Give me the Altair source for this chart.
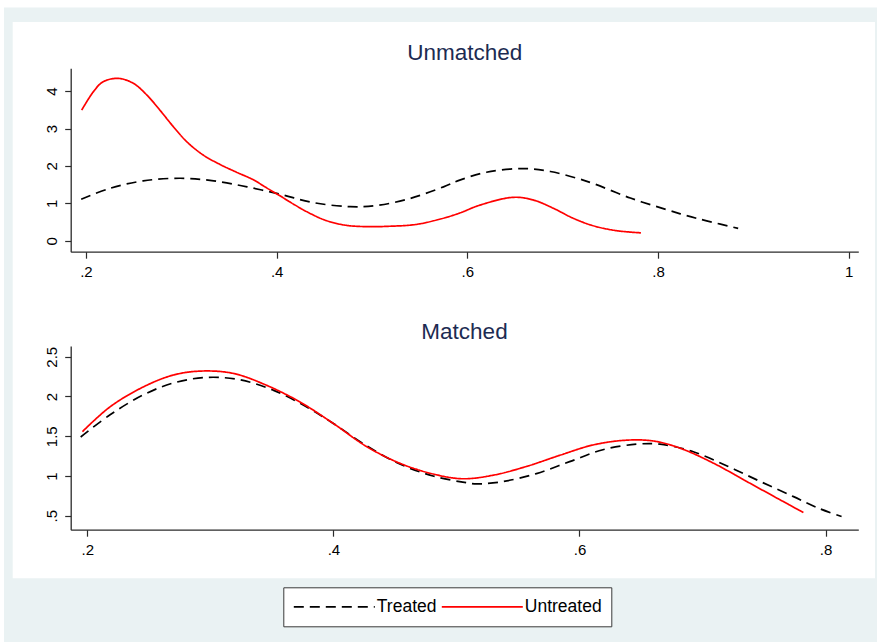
import altair as alt
import pandas as pd

# ---------------- data ----------------
series_names = ["Treated", "Untreated"]

unm_treated_x = [0.195, 0.225, 0.260, 0.299, 0.334, 0.369, 0.404, 0.438, 0.477, 0.505,
                 0.540, 0.575, 0.592, 0.620, 0.658, 0.687, 0.715, 0.732, 0.771, 0.809,
                 0.830, 0.851, 0.884]
unm_treated_y = [1.11, 1.40, 1.60, 1.67, 1.60, 1.44, 1.24, 1.02, 0.91, 0.94,
                 1.13, 1.44, 1.62, 1.83, 1.93, 1.85, 1.67, 1.53, 1.14, 0.83,
                 0.67, 0.53, 0.33]

unm_untreated_x = [0.1955, 0.2077, 0.218, 0.234, 0.2496, 0.2637, 0.2776, 0.2916, 0.3056,
                   0.323, 0.3405, 0.358, 0.3755, 0.389, 0.4035, 0.4175, 0.435, 0.4524,
                   0.4734, 0.4978, 0.522, 0.537, 0.550, 0.5747, 0.592, 0.613, 0.648, 0.669,
                   0.690, 0.711, 0.732, 0.756, 0.782]
unm_untreated_y = [3.49, 3.98, 4.25, 4.34, 4.21, 3.90, 3.49, 3.05, 2.65,
                   2.29, 2.04, 1.83, 1.63, 1.42, 1.20, 0.98, 0.73, 0.535,
                   0.41, 0.375, 0.39, 0.41, 0.45, 0.60, 0.74, 0.95, 1.16, 1.09,
                   0.87, 0.60, 0.40, 0.27, 0.21]

mat_treated_x = [0.1946, 0.2185, 0.2455, 0.270, 0.297, 0.324, 0.351, 0.378, 0.400, 0.427,
                 0.454, 0.481, 0.508, 0.5165, 0.538, 0.565, 0.592, 0.619, 0.6465, 0.6654,
                 0.6925, 0.720, 0.747, 0.774, 0.795, 0.813]
mat_treated_y = [1.49, 1.77, 2.02, 2.17, 2.24, 2.21, 2.08, 1.87, 1.66, 1.38,
                 1.15, 1.00, 0.915, 0.90, 0.93, 1.03, 1.18, 1.33, 1.40, 1.40,
                 1.305, 1.125, 0.93, 0.74, 0.59, 0.49]

mat_untreated_x = [0.196, 0.2185, 0.2455, 0.270, 0.293, 0.3187, 0.3458, 0.3729, 0.400,
                   0.427, 0.454, 0.481, 0.505, 0.530, 0.557, 0.584, 0.611, 0.638, 0.660,
                   0.6817, 0.709, 0.736, 0.763, 0.782]
mat_untreated_y = [1.557, 1.87, 2.12, 2.27, 2.32, 2.29, 2.14, 1.93, 1.66,
                   1.37, 1.16, 1.025, 0.965, 1.01, 1.12, 1.26, 1.39, 1.45, 1.44,
                   1.35, 1.16, 0.93, 0.70, 0.54]

panel_titles = ["Unmatched", "Matched"]
top_x_ticks = [0.2, 0.4, 0.6, 0.8, 1.0]
top_y_ticks = [0, 1, 2, 3, 4]
bot_x_ticks = [0.2, 0.4, 0.6, 0.8]
bot_y_ticks = [0.5, 1.0, 1.5, 2.0, 2.5]


def long_df(tx, ty, ux, uy):
    rows = [{"x": a, "y": b, "group": series_names[0], "order": i} for i, (a, b) in enumerate(zip(tx, ty))]
    rows += [{"x": a, "y": b, "group": series_names[1], "order": i} for i, (a, b) in enumerate(zip(ux, uy))]
    return pd.DataFrame(rows)


top_df = long_df(unm_treated_x, unm_treated_y, unm_untreated_x, unm_untreated_y)
bot_df = long_df(mat_treated_x, mat_treated_y, mat_untreated_x, mat_untreated_y)

# ---------------- style ----------------
W, H = 877, 642
FONT = "Liberation Sans"
AXIS_COLOR = "#2b2b2b"
TITLE_COLOR = "#1c2b52"
OUTER_BG = "#EAF2F3"

PX_L, PX_R = 70.7, 858.3
TOP_Y0, TOP_Y1 = 68.3, 251.7
BOT_Y0, BOT_Y1 = 346.0, 529.7

color_scale = alt.Scale(domain=series_names, range=["#000000", "#ff0000"])
dash_scale = alt.Scale(domain=series_names, range=[[10, 6], [1, 0]])

legend = alt.Legend(
    orient="none", legendX=283.3, legendY=587.3, direction="horizontal", title=None,
    fillColor="white", strokeColor="#3a3a3a", padding=9.5, clipHeight=20,
    labelFont=FONT, labelFontSize=17.5, labelColor="black", labelOffset=1,
    symbolType="stroke", symbolSize=6561, symbolStrokeWidth=1.8, columnPadding=4,
    zindex=2,
)

one = pd.DataFrame({"a": [0]})

outer = alt.Chart(one).mark_rect(color=OUTER_BG).encode(
    x=alt.value(4), x2=alt.value(W), y=alt.value(7.5), y2=alt.value(H))
inner = alt.Chart(one).mark_rect(color="white").encode(
    x=alt.value(12.7), x2=alt.value(875), y=alt.value(22), y2=alt.value(578.3))


def axis_common(**kw):
    base = dict(domainColor=AXIS_COLOR, tickColor=AXIS_COLOR, tickSize=6.5, tickWidth=1.2,
                domainWidth=1.3, labelColor="black", labelFont=FONT, labelFontSize=15,
                grid=False, title=None, zindex=1, labelFlush=False, labelOverlap=False)
    base.update(kw)
    return alt.Axis(**base)


LBL = "datum.value < 1 ? replace(format(datum.value, '.1f'), '0.', '.') : format(datum.value, '~g')"

top_lines = alt.Chart(top_df).mark_line(strokeWidth=1.7, interpolate="catmull-rom").encode(
    x=alt.X("x:Q", scale=alt.Scale(domain=[0.184, 1.010], range=[PX_L, PX_R], nice=False, zero=False),
            axis=axis_common(orient="bottom", offset=TOP_Y1 - H, values=top_x_ticks,
                             labelPadding=6, labelExpr=LBL)),
    y=alt.Y("y:Q", scale=alt.Scale(domain=[-0.294, 4.61], range=[TOP_Y1, TOP_Y0], nice=False, zero=False),
            axis=axis_common(orient="left", offset=-PX_L, values=top_y_ticks, tickSize=6,
                             labelPadding=8, labelAngle=270, labelAlign="center",
                             labelBaseline="alphabetic", format="d")),
    color=alt.Color("group:N", scale=color_scale, legend=legend),
    strokeDash=alt.StrokeDash("group:N", scale=dash_scale, legend=legend),
    order="order:Q",
)

bot_lines = alt.Chart(bot_df).mark_line(strokeWidth=1.7, interpolate="catmull-rom").encode(
    x=alt.X("x:Q", scale=alt.Scale(domain=[0.1865, 0.8266], range=[PX_L, PX_R], nice=False, zero=False),
            axis=axis_common(orient="bottom", offset=BOT_Y1 - H, values=bot_x_ticks,
                             labelPadding=6.5, labelExpr=LBL)),
    y=alt.Y("y:Q", scale=alt.Scale(domain=[0.324, 2.635], range=[BOT_Y1, BOT_Y0], nice=False, zero=False),
            axis=axis_common(orient="left", offset=-PX_L, values=bot_y_ticks, tickSize=6,
                             labelPadding=8, labelAngle=270, labelAlign="center",
                             labelBaseline="alphabetic", labelExpr=LBL)),
    color=alt.Color("group:N", scale=color_scale, legend=legend),
    strokeDash=alt.StrokeDash("group:N", scale=dash_scale, legend=legend),
    order="order:Q",
)

title_df = pd.DataFrame({"t": panel_titles})
title_top = alt.Chart(title_df).transform_filter(alt.datum.t == panel_titles[0]).mark_text(
    font=FONT, fontSize=22.5, color=TITLE_COLOR, align="center", baseline="alphabetic"
).encode(text="t:N", x=alt.value(464.7), y=alt.value(60))
title_bot = alt.Chart(title_df).transform_filter(alt.datum.t == panel_titles[1]).mark_text(
    font=FONT, fontSize=22.5, color=TITLE_COLOR, align="center", baseline="alphabetic"
).encode(text="t:N", x=alt.value(464.5), y=alt.value(338.7))

chart = alt.layer(outer, inner, top_lines, bot_lines, title_top, title_bot).resolve_scale(
    x="independent", y="independent", color="shared", strokeDash="shared"
).properties(
    width=W, height=H, padding=0,
    autosize=alt.AutoSizeParams(type="none"),
    background="white",
).configure_view(stroke=None)

chart.save("out.html", embed_options={"renderer": "svg", "actions": False})
